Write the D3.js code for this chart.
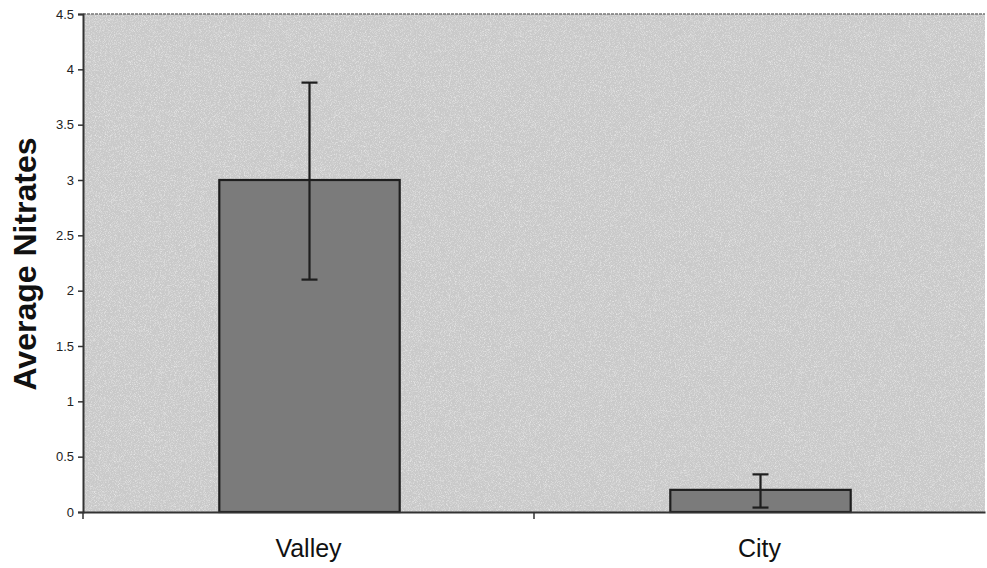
<!DOCTYPE html>
<html>
<head>
<meta charset="utf-8">
<script src="https://cdn.jsdelivr.net/npm/d3@7"></script>
<style>
  body { margin: 0; background: #fff; }
  svg { display: block; font-family: "Liberation Sans", Arial, sans-serif; }
</style>
</head>
<body>
<svg width="987" height="568"></svg>
<script>
// chart data
var categories = ["Valley", "City"];
var averages = [3.0, 0.2];
var errLow = [2.1, 0.04];
var errHigh = [3.88, 0.34];
var yTicks = [0, 0.5, 1, 1.5, 2, 2.5, 3, 3.5, 4, 4.5];

var svg = d3.select("svg"),
    margin = { top: 14, right: 2, bottom: 56, left: 83 },
    width = 987 - margin.left - margin.right,
    height = 568 - margin.top - margin.bottom;

// speckled background like the scanned original
var defs = svg.append("defs");
var f = defs.append("filter").attr("id", "grain").attr("x", 0).attr("y", 0).attr("width", 1).attr("height", 1);
f.append("feTurbulence").attr("type", "fractalNoise").attr("baseFrequency", 1.2).attr("numOctaves", 2).attr("seed", 3).attr("result", "n");
f.append("feColorMatrix").attr("in", "n").attr("type", "matrix")
    .attr("values", "0 0 0 0 1  0 0 0 0 1  0 0 0 0 1  1.2 0 0 0 -0.55")
    .attr("result", "light");
f.append("feComposite").attr("in", "light").attr("in2", "SourceGraphic").attr("operator", "over");

var g = svg.append("g").attr("transform", "translate(" + margin.left + "," + margin.top + ")");

var x = d3.scaleBand().domain(categories).range([0, width]).paddingInner(0).paddingOuter(0);
var y = d3.scaleLinear().domain([0, 4.5]).range([height, 0]);
var barW = x.bandwidth() * 0.40;

// plot area
g.append("rect")
    .attr("width", width)
    .attr("height", height)
    .attr("fill", "#c9c9c9")
    .attr("filter", "url(#grain)");

// dashed top border
g.append("line")
    .attr("x1", 0).attr("x2", width)
    .attr("y1", 0).attr("y2", 0)
    .attr("stroke", "#777").attr("stroke-width", 1.5)
    .attr("stroke-dasharray", "3,1");

// bars
g.selectAll(".bar")
    .data(categories)
    .enter().append("rect")
    .attr("class", "bar")
    .attr("x", function (d) { return x(d) + (x.bandwidth() - barW) / 2 + 1; })
    .attr("y", function (d, i) { return y(averages[i]); })
    .attr("width", barW)
    .attr("height", function (d, i) { return height - y(averages[i]); })
    .attr("fill", "#7b7b7b")
    .attr("stroke", "#1e1e1e")
    .attr("stroke-width", 2.2);

// error bars
var eb = g.selectAll(".err")
    .data(categories)
    .enter().append("g")
    .attr("class", "err")
    .attr("stroke", "#1e1e1e")
    .attr("stroke-width", 2.2);

eb.append("line")
    .attr("x1", function (d) { return x(d) + x.bandwidth() / 2 + 1; })
    .attr("x2", function (d) { return x(d) + x.bandwidth() / 2 + 1; })
    .attr("y1", function (d, i) { return y(errLow[i]); })
    .attr("y2", function (d, i) { return y(errHigh[i]); });

[errLow, errHigh].forEach(function (arr) {
    eb.append("line")
        .attr("x1", function (d) { return x(d) + x.bandwidth() / 2 - 7; })
        .attr("x2", function (d) { return x(d) + x.bandwidth() / 2 + 9; })
        .attr("y1", function (d, i) { return y(arr[i]); })
        .attr("y2", function (d, i) { return y(arr[i]); });
});

// y axis
var yAxis = g.append("g")
    .call(d3.axisLeft(y).tickValues(yTicks).tickSize(5).tickFormat(d3.format("")));
yAxis.select(".domain").attr("stroke", "#333").attr("stroke-width", 2);
yAxis.selectAll(".tick line").attr("stroke", "#333").attr("stroke-width", 1.5);
yAxis.selectAll(".tick text")
    .attr("fill", "#222")
    .attr("font-size", 13)
    .attr("font-family", "Liberation Sans, Arial, sans-serif")
    .attr("x", -9);

// x axis
var xAxis = g.append("g")
    .attr("transform", "translate(0," + height + ")")
    .call(d3.axisBottom(x).tickSize(0).tickPadding(27));
xAxis.select(".domain").attr("stroke", "#333").attr("stroke-width", 2);
xAxis.selectAll(".tick text")
    .attr("fill", "#111")
    .attr("font-size", 25)
    .attr("font-family", "Liberation Sans, Arial, sans-serif");

// category separator ticks
xAxis.selectAll(".sep")
    .data([0].concat(categories.slice(1).map(function (d) { return x(d); })))
    .enter().append("line")
    .attr("class", "sep")
    .attr("x1", function (d) { return d; }).attr("x2", function (d) { return d; })
    .attr("y1", 0).attr("y2", 7)
    .attr("stroke", "#333").attr("stroke-width", 1.5);

// y label
svg.append("text")
    .attr("transform", "translate(36," + (margin.top + height / 2 + 1) + ") rotate(-90)")
    .attr("text-anchor", "middle")
    .attr("font-size", 32)
    .attr("font-weight", "bold")
    .attr("fill", "#111")
    .text("Average Nitrates");
</script>
</body>
</html>
